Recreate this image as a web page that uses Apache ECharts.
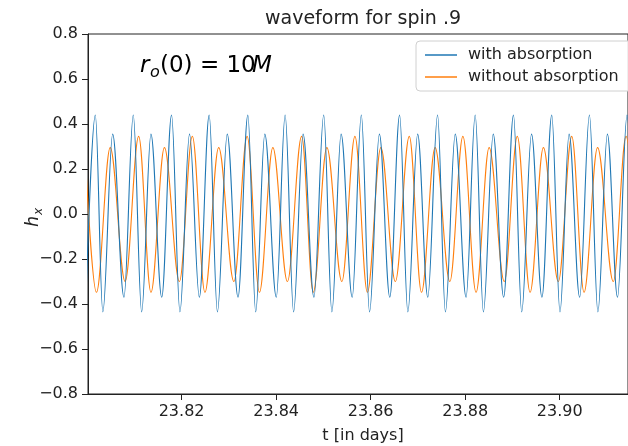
<!DOCTYPE html>
<html><head><meta charset="utf-8">
<script src="https://cdn.jsdelivr.net/npm/echarts@6/dist/echarts.min.js"></script>
<style>html,body{margin:0;padding:0;background:#fff}#c{width:628px;height:446px}</style>
</head><body><div id="c"></div>
<script>
// ---- data (extrema of each waveform) ----
const chartTitle = 'waveform for spin .9';
const xAxisTitle = 't [in days]';
const seriesNames = ['with absorption', 'without absorption'];
const xTickValues = [23.82, 23.84, 23.86, 23.88, 23.90];
const yTickValues = [-0.8, -0.6, -0.4, -0.2, 0.0, 0.2, 0.4, 0.6, 0.8];
const xRange = [23.8002, 23.91445];

const withAbsT = [
 23.79977, 23.80175, 23.80334, 23.80542, 23.80781, 23.80978, 23.81155, 23.81352,
 23.81580, 23.81788, 23.81965, 23.82168, 23.82376, 23.82584, 23.82758, 23.82966,
 23.83194, 23.83402, 23.83568, 23.83761, 23.84004, 23.84191, 23.84370, 23.84571,
 23.84800, 23.85007, 23.85180, 23.85375, 23.85610, 23.85803, 23.85977, 23.86185,
 23.86405, 23.86613, 23.86787, 23.86995, 23.87209, 23.87416, 23.87582, 23.87790,
 23.88019, 23.88212, 23.88386, 23.88594, 23.88814, 23.89022, 23.89196, 23.89404,
 23.89624, 23.89832, 23.90006, 23.90199, 23.90422, 23.90629, 23.90808, 23.91009,
 23.91223, 23.91425, 23.91601
];
const withAbsH = [
 -0.37, 0.44, -0.435, 0.355, -0.37, 0.44, -0.435, 0.355,
 -0.37, 0.44, -0.435, 0.355, -0.37, 0.44, -0.435, 0.355,
 -0.37, 0.44, -0.435, 0.355, -0.37, 0.44, -0.435, 0.355,
 -0.37, 0.44, -0.435, 0.355, -0.37, 0.44, -0.435, 0.355,
 -0.37, 0.44, -0.435, 0.355, -0.37, 0.44, -0.435, 0.355,
 -0.37, 0.44, -0.435, 0.355, -0.37, 0.44, -0.435, 0.355,
 -0.37, 0.44, -0.435, 0.355, -0.37, 0.44, -0.435, 0.355,
 -0.37, 0.44, -0.435
];
const withoutAbsT = [
 23.79940, 23.80199, 23.80490, 23.80806, 23.81092, 23.81352, 23.81637, 23.81954,
 23.82228, 23.82494, 23.82785, 23.83107, 23.83387, 23.83647, 23.83931, 23.84239,
 23.84540, 23.84785, 23.85074, 23.85391, 23.85668, 23.85931, 23.86216, 23.86523,
 23.86818, 23.87076, 23.87364, 23.87676, 23.87952, 23.88230, 23.88507, 23.88828,
 23.89103, 23.89373, 23.89655, 23.89971, 23.90255, 23.90515, 23.90801, 23.91134,
 23.91404, 23.91663
];
const withoutAbsH = [
 0.345, -0.348, 0.295, -0.30, 0.345, -0.348, 0.295, -0.30,
 0.345, -0.348, 0.295, -0.30, 0.345, -0.348, 0.295, -0.30,
 0.345, -0.348, 0.295, -0.30, 0.345, -0.348, 0.295, -0.30,
 0.345, -0.348, 0.295, -0.30, 0.345, -0.348, 0.295, -0.30,
 0.345, -0.348, 0.295, -0.30, 0.345, -0.348, 0.295, -0.30,
 0.345, -0.348
];

// ---- chart ----
const FONT = '"DejaVu Sans", sans-serif';
const TXT = '#222';
const pair = (ts, hs) => ts.map((t, i) => [t, hs[i]]);
const minus = s => s.replace('-', '\u2212');

const chart = echarts.init(document.getElementById('c'), null, {renderer: 'canvas'});
chart.setOption({
  animation: false,
  backgroundColor: '#fff',
  textStyle: {fontFamily: FONT},
  grid: {left: 88, top: 34, width: 550, height: 360, show: true, borderColor: '#222', borderWidth: 1, backgroundColor: 'transparent'},
  xAxis: {
    type: 'value', min: xRange[0], max: xRange[1],
    axisLine: {show: true, onZero: false, lineStyle: {color: '#222', width: 1}},
    axisTick: {show: true, customValues: xTickValues, length: 6, inside: false, lineStyle: {color: '#222'}},
    axisLabel: {customValues: xTickValues, formatter: v => v.toFixed(2), fontSize: 16, color: TXT, fontFamily: FONT, margin: 10},
    splitLine: {show: false}
  },
  yAxis: {
    type: 'value', min: -0.8, max: 0.8, interval: 0.2,
    axisLine: {show: true, onZero: false, lineStyle: {color: '#222', width: 1}},
    axisTick: {show: true, length: 6, lineStyle: {color: '#222'}},
    axisLabel: {formatter: v => minus((Math.abs(v) < 1e-9 ? 0 : v).toFixed(1)), fontSize: 16, color: TXT, fontFamily: FONT, margin: 10},
    splitLine: {show: false}
  },
  legend: {
    orient: 'vertical', left: 416, top: 41,
    data: seriesNames,
    icon: 'rect', itemWidth: 32, itemHeight: 1.5, itemGap: 6,
    padding: [6, 30, 6, 9],
    borderColor: '#d0d0d0', borderWidth: 1, borderRadius: 4,
    backgroundColor: 'rgba(255,255,255,0.85)',
    textStyle: {fontSize: 16, color: TXT, fontFamily: FONT, padding: [0, 0, 0, 6]}
  },
  series: [
    {name: seriesNames[0], type: 'line', data: pair(withAbsT, withAbsH), showSymbol: false, symbol: 'none',
     smooth: 0.36, smoothMonotone: 'x', clip: true, lineStyle: {color: '#1f77b4', width: 1.1}, itemStyle: {color: '#1f77b4'}, z: 3},
    {name: seriesNames[1], type: 'line', data: pair(withoutAbsT, withoutAbsH), showSymbol: false, symbol: 'none',
     smooth: 0.36, smoothMonotone: 'x', clip: true, lineStyle: {color: '#ff7f0e', width: 1.1}, itemStyle: {color: '#ff7f0e'}, z: 2}
  ],
  graphic: [
    {type: 'text', x: 363, y: 19, style: {text: chartTitle, align: 'center', verticalAlign: 'middle', fontSize: 19, fill: TXT, fontFamily: FONT}},
    {type: 'text', x: 363, y: 436, style: {text: xAxisTitle, align: 'center', verticalAlign: 'middle', fontSize: 16, fill: TXT, fontFamily: FONT}},
    {type: 'group', x: 34, y: 214, rotation: Math.PI / 2, children: [
      {type: 'text', x: -2, y: 0, style: {text: 'h', align: 'right', verticalAlign: 'middle', fontSize: 17, fontStyle: 'italic', fill: TXT, fontFamily: FONT}},
      {type: 'text', x: -1, y: 5, style: {text: 'x', align: 'left', verticalAlign: 'middle', fontSize: 12, fontStyle: 'italic', fill: TXT, fontFamily: FONT}}
    ]},
    {type: 'group', x: 140, y: 66, children: [
      {type: 'text', x: 0, y: 0, style: {text: 'r', align: 'left', verticalAlign: 'middle', fontSize: 23, fontStyle: 'italic', fill: '#000', fontFamily: FONT}},
      {type: 'text', x: 10, y: 7, style: {text: 'o', align: 'left', verticalAlign: 'middle', fontSize: 16, fontStyle: 'italic', fill: '#000', fontFamily: FONT}},
      {type: 'text', x: 20, y: 0, style: {text: '(0) = 10', align: 'left', verticalAlign: 'middle', fontSize: 23, fill: '#000', fontFamily: FONT}},
      {type: 'text', x: 112, y: 0, style: {text: 'M', align: 'left', verticalAlign: 'middle', fontSize: 23, fontStyle: 'italic', fill: '#000', fontFamily: FONT}}
    ]}
  ]
});
</script>
</body></html>
